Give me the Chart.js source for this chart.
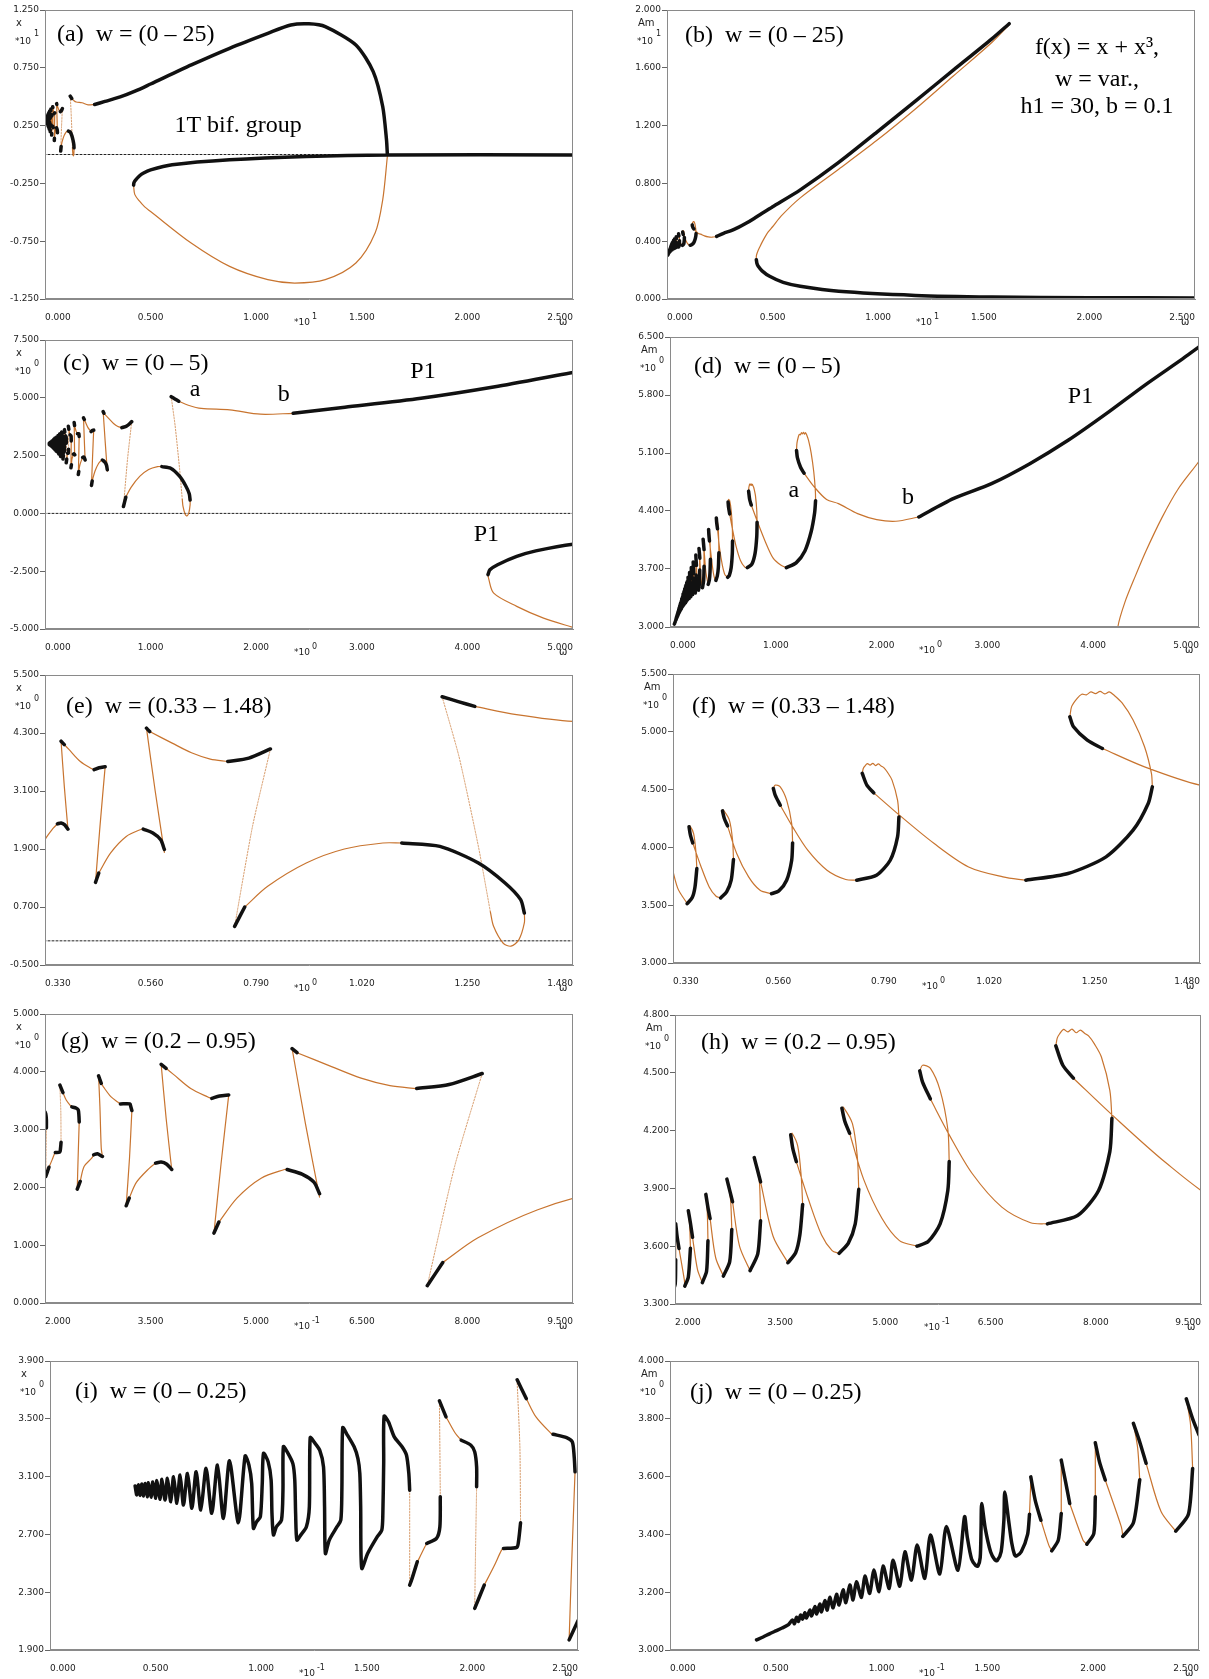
<!DOCTYPE html>
<html>
<head>
<meta charset="utf-8">
<script src="https://cdn.jsdelivr.net/npm/chart.js@4.4.0/dist/chart.umd.min.js"></script>
<style>
body { margin: 0; background: #fff; width: 1209px; height: 1679px; position: relative; overflow: hidden; }
canvas { position: absolute; }
</style>
</head>
<body>
<script>
/** BIFURCATION DIAGRAMS f(x) = x + x^3 , 10 panels **/

// ---- tick labels (axis units) ----
var wTicks25 = [0, 0.5, 1, 1.5, 2, 2.5];
var wTicks5 = [0, 1, 2, 3, 4, 5];
var wTicksE = [0.33, 0.56, 0.79, 1.02, 1.25, 1.48];
var wTicksG = [2, 3.5, 5, 6.5, 8, 9.5];
var aTicksY = [-1.25, -0.75, -0.25, 0.25, 0.75, 1.25];
var bTicksY = [0, 0.4, 0.8, 1.2, 1.6, 2.0];
var cTicksY = [-5, -2.5, 0, 2.5, 5, 7.5];
var dTicksY = [3.0, 3.7, 4.4, 5.1, 5.8, 6.5];
var eTicksY = [-0.5, 0.7, 1.9, 3.1, 4.3, 5.5];
var fTicksY = [3.0, 3.5, 4.0, 4.5, 5.0, 5.5];
var gTicksY = [0, 1, 2, 3, 4, 5];
var hTicksY = [3.3, 3.6, 3.9, 4.2, 4.5, 4.8];
var iTicksY = [1.9, 2.3, 2.7, 3.1, 3.5, 3.9];
var jTicksY = [3.0, 3.2, 3.4, 3.6, 3.8, 4.0];

// ---- x(w) curves, [w, x] ----
// stable oscillation band at small w (black)
var xDenseBlack = [
  [0.0403,3.035],[0.0411,2.973],[0.0419,3.044],[0.0427,2.970],[0.0435,3.049],[0.0443,2.966],[0.0451,3.053],[0.0462,2.961],
  [0.0466,3.058],[0.0480,2.957],[0.0487,3.063],[0.0501,2.950],[0.0506,3.072],[0.0522,2.943],[0.0530,3.081],[0.0545,2.938],
  [0.0556,3.088],[0.0572,2.926],[0.0585,3.099],[0.0601,2.915],[0.0616,3.111],[0.0632,2.903],[0.0651,3.122],[0.0672,2.881],
  [0.0692,3.134],[0.0714,2.869],[0.0739,3.157],[0.0766,2.846],[0.0793,3.180],[0.0821,2.811],[0.0850,3.210],[0.0892,2.781],
  [0.0924,3.243],[0.0942,3.179],[0.0955,3.052],[0.0963,2.742],[0.0978,2.787],[0.0996,2.822],[0.1005,3.052],
  [0.1011,3.261],[0.1033,3.202],[0.1047,3.075],[0.1051,2.845],[0.1058,2.696],[0.1072,2.753],[0.1096,2.799],[0.1103,3.006],
  [0.1105,3.307],[0.1123,3.271],[0.1150,3.190],[0.1159,3.075],[0.1163,2.845],[0.1169,2.661],[0.1187,2.695],[0.1214,2.753],
  [0.1228,2.891],[0.1232,3.370],[0.1250,3.340],[0.1277,3.283],[0.1295,3.167],[0.1300,2.891],[0.1304,2.568],[0.1322,2.660],
  [0.1359,2.753],[0.1377,2.799],[0.1382,3.006],[0.1386,3.439],[0.1404,3.398],[0.1440,3.306],[0.1458,3.225],[0.1467,3.121],
  [0.1471,2.891],[0.1476,2.465],[0.1504,2.568],[0.1549,2.683],[0.1571,2.730],[0.1576,2.845],[0.1580,3.200],[0.1582,3.518],
  [0.1603,3.478],[0.1630,3.375],[0.1667,3.306],[0.1688,3.248],[0.1699,3.121],[0.1703,3.006]
];
var xFramesBlack = [
  [[0.1703,2.349],[0.1712,2.384],[0.1739,2.511]],
  [[0.1784,2.637],[0.1830,2.672],[0.1846,2.753],[0.1848,2.960]],
  [[0.1844,3.624],[0.1875,3.513]],
  [[0.1947,3.352],[0.1993,3.317],[0.2011,3.271],[0.2020,3.167],[0.2020,3.029]],
  [[0.2011,2.188],[0.2056,2.349]],
  [[0.2147,2.603],[0.2210,2.610],[0.2219,2.660],[0.2228,2.780]],
  [[0.2212,3.770],[0.2255,3.640]],
  [[0.2382,3.393],[0.2446,3.370],[0.2473,3.340],[0.2482,3.236],[0.2486,3.133]],
  [[0.2458,1.970],[0.2500,2.103]],
  [[0.2691,2.563],[0.2745,2.581],[0.2816,2.535]],
  [[0.2761,3.929],[0.2799,3.800]],
  [[0.3071,3.445],[0.3207,3.445],[0.3218,3.400],[0.3234,3.329]],
  [[0.3153,1.682],[0.3196,1.814]],
  [[0.357,2.42],[0.365,2.44],[0.373,2.40],[0.380,2.31]],
  [[0.365,4.13],[0.372,4.06]],
  [[0.437,3.54],[0.448,3.58],[0.461,3.60]],
  [[0.440,1.21],[0.447,1.40]],
  [[0.544,2.31],[0.565,2.23],[0.582,2.09],[0.590,1.89]],
  [[0.551,4.40],[0.558,4.33]],
  [[0.728,3.71],[0.774,3.78],[0.821,3.97]],
  [[0.743,0.30],[0.765,0.70]],
  [[1.107,2.024],[1.190,1.955],[1.274,1.610],[1.332,1.197],[1.366,0.852],[1.374,0.576]],
  [[1.195,5.05],[1.230,4.95],[1.266,4.85]]
];
var xFramesOrange = [
  [[0.1739,2.511],[0.1748,2.534],[0.1775,2.614],[0.1784,2.637]],
  [[0.1875,3.513],[0.1884,3.490],[0.1920,3.398],[0.1947,3.352]],
  [[0.2056,2.349],[0.2101,2.476],[0.2138,2.591],[0.2147,2.603]],
  [[0.2255,3.640],[0.2301,3.513],[0.2373,3.398],[0.2382,3.393]],
  [[0.2486,3.133],[0.2470,2.500],[0.2458,1.970]],
  [[0.2500,2.103],[0.2555,2.362],[0.2663,2.506],[0.2691,2.563]],
  [[0.2816,2.535],[0.2799,2.679],[0.2780,3.400],[0.2761,3.929]],
  [[0.2799,3.800],[0.2827,3.744],[0.2935,3.571],[0.3044,3.468],[0.3071,3.445]],
  [[0.3234,3.329],[0.3200,2.500],[0.3153,1.682]],
  [[0.3196,1.814],[0.330,2.09],[0.348,2.33],[0.357,2.42]],
  [[0.365,4.13],[0.372,3.20],[0.380,2.31]],
  [[0.372,4.06],[0.382,3.96],[0.407,3.71],[0.432,3.56],[0.437,3.54]],
  [[0.461,3.60],[0.450,2.40],[0.440,1.21]],
  [[0.447,1.40],[0.473,1.82],[0.507,2.16],[0.540,2.31],[0.544,2.31]],
  [[0.551,4.40],[0.570,3.10],[0.590,1.83]],
  [[0.558,4.33],[0.607,4.09],[0.649,3.89],[0.690,3.76],[0.728,3.71]],
  [[0.765,0.70],[0.815,1.128],[0.899,1.61],[0.982,1.90],[1.066,2.024],[1.107,2.024]],
  [[1.300,0.60],[1.307,0.30],[1.328,-0.05],[1.345,-0.11],[1.362,0.02],[1.374,0.37],[1.374,0.58]]
];
var xFramesFaint = [
  [[0.1703,3.006],[0.1703,2.360]],
  [[0.1848,2.960],[0.1846,3.300],[0.1844,3.600]],
  [[0.2020,3.029],[0.2015,2.600],[0.2011,2.200]],
  [[0.2228,2.780],[0.2225,3.300],[0.2212,3.750]],
  [[0.821,3.97],[0.782,2.37],[0.743,0.30]],
  [[1.195,5.05],[1.232,3.80],[1.274,1.95],[1.300,0.60]]
];
var xP1Black = [
  [[2.35,4.33],[2.84,4.59],[3.56,4.98],[4.29,5.50],[5.0,6.10],[6.93,7.75],[8.74,9.19],[10.55,10.48],[11.64,11.2],
   [12.5,11.3],[13.27,11.06],[14.72,9.48],[15.54,7.17],[15.99,4.15],[16.17,1.27],[16.21,0]],
  [[4.195,-2.65],[4.213,-2.44],[4.286,-2.22],[4.467,-1.86],[4.648,-1.62],[5.0,-1.33],[6.02,-0.89],[8.74,-0.46],
   [12.36,-0.17],[16.21,-0.04],[25,-0.04]]
];
var xP1Orange = [
  [[1.266,4.85],[1.357,4.68],[1.48,4.54],[1.75,4.48],[2.04,4.29],[2.35,4.33]],
  [[4.195,-2.65],[4.20,-2.80],[4.249,-3.45],[4.467,-4.02],[4.721,-4.53],[5.0,-4.93],[6.92,-7.66],[8.74,-9.68],
   [10.55,-10.83],[11.82,-11.12],[13.27,-10.83],[14.72,-9.39],[15.63,-6.80],[15.99,-3.92],[16.21,-0.17]]
];

// ---- Am(w) curves, [w, Am] ----
var amDenseBlack = [
  [0.0409,3.035],[0.044,3.045],[0.047,3.056],[0.050,3.066],[0.053,3.076],[0.056,3.088],[0.0579,3.104],[0.0588,3.091],
  [0.0598,3.113],[0.0607,3.099],[0.0617,3.121],[0.0627,3.107],[0.0637,3.129],[0.0645,3.111],[0.0661,3.138],[0.0669,3.118],
  [0.0685,3.150],[0.0693,3.125],[0.0708,3.159],[0.0716,3.132],[0.0732,3.171],[0.0743,3.138],[0.0755,3.182],[0.0771,3.146],
  [0.0787,3.193],[0.0799,3.156],[0.0818,3.208],[0.0831,3.164],[0.0850,3.225],[0.0865,3.173],[0.0881,3.236],[0.0905,3.182],
  [0.0921,3.256],[0.0944,3.196],[0.0963,3.277],[0.0988,3.202],[0.1007,3.291],[0.1036,3.213],[0.1054,3.311],[0.1086,3.221],
  [0.1110,3.340],[0.1141,3.242],[0.1168,3.363],[0.1204,3.248],[0.1231,3.398],[0.1275,3.263],[0.1306,3.427],[0.1361,3.276],
  [0.1392,3.461],[0.1405,3.390],[0.1425,3.315],[0.1445,3.292],[0.1455,3.290],[0.1466,3.320],[0.1470,3.420],[0.1473,3.507],
  [0.1490,3.420],[0.1515,3.340],[0.1535,3.312],[0.1546,3.309],[0.1565,3.340],[0.1578,3.450],[0.1582,3.547],[0.1600,3.450],
  [0.1615,3.370],[0.1628,3.330],[0.1636,3.325],[0.1660,3.340],[0.1690,3.400],[0.1699,3.470]
];
var amLoopsBlack = [
  [[0.1705,3.599],[0.1726,3.518],[0.1753,3.449]],
  [[0.1804,3.343],[0.1835,3.380],[0.1849,3.472]],
  [[0.1849,3.657],[0.1870,3.580],[0.1889,3.507]],
  [[0.1970,3.366],[0.2003,3.403],[0.2010,3.530]],
  [[0.2010,3.717],[0.2030,3.650],[0.2057,3.588]],
  [[0.214,3.393],[0.219,3.440],[0.222,3.589]],
  [[0.219,3.784],[0.222,3.720],[0.225,3.646]],
  [[0.239,3.411],[0.245,3.470],[0.247,3.628]],
  [[0.244,3.869],[0.247,3.800],[0.250,3.744]],
  [[0.269,3.445],[0.278,3.520],[0.281,3.687]],
  [[0.274,3.948],[0.278,3.890],[0.282,3.831]],
  [[0.307,3.473],[0.318,3.560],[0.322,3.732]],
  [[0.313,4.060],[0.318,3.990],[0.322,3.934]],
  [[0.361,3.514],[0.372,3.566],[0.378,3.658],[0.382,3.817]],
  [[0.365,4.178],[0.368,4.106],[0.373,4.039]],
  [[0.434,3.563],[0.447,3.615],[0.457,3.716],[0.462,3.895]],
  [[0.438,4.316],[0.442,4.250],[0.449,4.186]],
  [[0.545,3.600],[0.561,3.624],[0.578,3.716],[0.589,3.889],[0.591,4.039]],
  [[0.549,4.510],[0.553,4.452],[0.564,4.365]],
  [[0.731,3.716],[0.774,3.759],[0.804,3.889],[0.820,4.091],[0.823,4.264]],
  [[0.743,4.640],[0.753,4.539],[0.768,4.472]],
  [[1.100,3.716],[1.192,3.774],[1.275,3.918],[1.334,4.149],[1.367,4.380],[1.376,4.524]],
  [[1.196,5.130],[1.204,5.044],[1.234,4.928],[1.267,4.856]]
];
var amLoopsOrange = [
  [[0.1699,3.470],[0.1705,3.580]],
  [[0.1753,3.449],[0.1790,3.363],[0.1804,3.343]],
  [[0.1849,3.472],[0.1849,3.640]],
  [[0.1889,3.507],[0.1952,3.380],[0.1970,3.366]],
  [[0.2010,3.530],[0.2010,3.700]],
  [[0.2057,3.588],[0.2133,3.426],[0.2140,3.393]],
  [[0.222,3.589],[0.221,3.700],[0.219,3.784]],
  [[0.225,3.646],[0.232,3.480],[0.239,3.411]],
  [[0.247,3.628],[0.246,3.780],[0.244,3.869]],
  [[0.250,3.744],[0.258,3.540],[0.269,3.445]],
  [[0.281,3.687],[0.279,3.850],[0.274,3.948]],
  [[0.282,3.831],[0.292,3.600],[0.307,3.473]],
  [[0.322,3.732],[0.320,3.950],[0.313,4.060]],
  [[0.322,3.934],[0.340,3.650],[0.361,3.514]],
  [[0.382,3.817],[0.380,3.961],[0.375,4.120],[0.367,4.186],[0.365,4.178]],
  [[0.373,4.039],[0.390,3.846],[0.409,3.658],[0.424,3.577],[0.434,3.563]],
  [[0.462,3.895],[0.460,4.062],[0.453,4.236],[0.440,4.322],[0.438,4.316]],
  [[0.449,4.186],[0.469,3.947],[0.495,3.745],[0.520,3.629],[0.545,3.600]],
  [[0.591,4.039],[0.589,4.207],[0.578,4.409],[0.564,4.524],[0.553,4.539],[0.549,4.510]],
  [[0.564,4.365],[0.591,4.178],[0.624,3.976],[0.666,3.803],[0.707,3.722],[0.731,3.716]],
  [[0.823,4.264],[0.820,4.409],[0.808,4.582],[0.798,4.650],[0.790,4.690],[0.784,4.705],[0.778,4.722],[0.772,4.708],
   [0.766,4.727],[0.760,4.712],[0.754,4.725],[0.748,4.700],[0.745,4.680],[0.743,4.640]],
  [[0.768,4.472],[0.824,4.279],[0.900,4.033],[0.975,3.831],[1.050,3.745],[1.100,3.716]],
  [[1.376,4.524],[1.374,4.640],[1.359,4.871],[1.334,5.102],[1.310,5.250],[1.292,5.318],[1.282,5.345],[1.272,5.328],
   [1.262,5.350],[1.252,5.330],[1.242,5.345],[1.232,5.320],[1.222,5.325],[1.212,5.290],[1.200,5.220],[1.196,5.130]]
];
var amP1Black = [
  [[2.352,4.328],[2.677,4.549],[3.039,4.730],[3.401,4.971],[3.763,5.253],[4.124,5.575],[4.486,5.917],[4.848,6.239],
   [5.0,6.38],[6.31,7.55],[8.13,9.45],[9.94,11.55],[11.76,13.70],[13.57,15.85],[15.38,18.0],[16.2,19.05]],
  [[4.23,2.72],[4.26,2.45],[4.32,2.26],[4.50,1.95],[4.86,1.57],[5.5,1.15],[6.31,0.88],[8.13,0.53],[11.76,0.25],
   [15.39,0.14],[20,0.09],[25,0.07]]
];
var amP1Orange = [
  [[1.267,4.856],[1.359,4.697],[1.48,4.539],[1.592,4.489],[1.773,4.368],[1.954,4.296],[2.135,4.276],[2.352,4.328]],
  [[4.23,2.72],[4.233,3.0],[4.30,3.30],[4.40,3.62],[4.50,3.92],[4.65,4.32],[4.80,4.66],[5.0,5.0],[5.41,5.75],
   [6.31,7.0],[8.13,8.98],[9.94,10.98],[11.76,13.15],[13.57,15.45],[15.38,17.75],[16.2,18.98]]
];

var ORANGE = '#c8742f';
var ORANGE_FAINT = 'rgba(200,116,47,0.7)';
var BLACK = '#111111';

var families = {
  x: { black: [xDenseBlack].concat(xFramesBlack, xP1Black), orange: xFramesOrange.concat(xP1Orange), faint: xFramesFaint },
  am: { black: [amDenseBlack].concat(amLoopsBlack, amP1Black), orange: amLoopsOrange.concat(amP1Orange), faint: [] }
};

var panels = [
  { id: 'a', fam: 'x', box: [45, 10, 573, 299], sx: 0.1, sy: 0.1, xr: [0, 2.5], yr: [-1.25, 1.25], xt: wTicks25, yt: aTicksY,
    ylab: 'x', yexp: '1', xexp: '1', title: '(a)  w = (0 \u2013 25)', tpos: [12, 25], zero: true,
    notes: [{ t: '1T bif. group', x: 0.914, y: 0.248 }] },
  { id: 'b', fam: 'am', box: [667, 10, 1195, 299], sx: 0.1, sy: 0.1, xr: [0, 2.5], yr: [0, 2], xt: wTicks25, yt: bTicksY,
    ylab: 'Am', yexp: '1', xexp: '1', title: '(b)  w = (0 \u2013 25)', tpos: [18, 26],
    notes: [{ t: 'f(x) = x + x\u00b3,', x: 2.036, y: 1.737 }, { t: 'w = var.,', x: 2.036, y: 1.516 }, { t: 'h1 = 30, b = 0.1', x: 2.036, y: 1.329 }] },
  { id: 'c', fam: 'x', box: [45, 340, 573, 629], sx: 1, sy: 1, xr: [0, 5], yr: [-5, 7.5], xt: wTicks5, yt: cTicksY,
    ylab: 'x', yexp: '0', xexp: '0', title: '(c)  w = (0 \u2013 5)', tpos: [18, 24], zero: true,
    notes: [{ t: 'a', x: 1.42, y: 5.37 }, { t: 'b', x: 2.26, y: 5.12 }, { t: 'P1', x: 3.58, y: 6.13 }, { t: 'P1', x: 4.18, y: -0.92 }] },
  { id: 'd', fam: 'am', box: [670, 337, 1199, 627], sx: 1, sy: 1, xr: [0, 5], yr: [3, 6.5], xt: wTicks5, yt: dTicksY,
    ylab: 'Am', yexp: '0', xexp: '0', title: '(d)  w = (0 \u2013 5)', tpos: [24, 30],
    notes: [{ t: 'a', x: 1.17, y: 4.64 }, { t: 'b', x: 2.25, y: 4.56 }, { t: 'P1', x: 3.88, y: 5.78 }] },
  { id: 'e', fam: 'x', box: [45, 675, 573, 965], sx: 1, sy: 1, xr: [0.33, 1.48], yr: [-0.5, 5.5], xt: wTicksE, yt: eTicksY,
    ylab: 'x', yexp: '0', xexp: '0', title: '(e)  w = (0.33 \u2013 1.48)', tpos: [21, 32], zero: true, notes: [] },
  { id: 'f', fam: 'am', box: [673, 674, 1200, 963], sx: 1, sy: 1, xr: [0.33, 1.48], yr: [3, 5.5], xt: wTicksE, yt: fTicksY,
    ylab: 'Am', yexp: '0', xexp: '0', title: '(f)  w = (0.33 \u2013 1.48)', tpos: [19, 33], notes: [] },
  { id: 'g', fam: 'x', box: [45, 1014, 573, 1303], sx: 10, sy: 1, xr: [2, 9.5], yr: [0, 5], xt: wTicksG, yt: gTicksY,
    ylab: 'x', yexp: '0', xexp: '-1', title: '(g)  w = (0.2 \u2013 0.95)', tpos: [16, 28], notes: [] },
  { id: 'h', fam: 'am', box: [675, 1015, 1201, 1304], sx: 10, sy: 1, xr: [2, 9.5], yr: [3.3, 4.8], xt: wTicksG, yt: hTicksY,
    ylab: 'Am', yexp: '0', xexp: '-1', title: '(h)  w = (0.2 \u2013 0.95)', tpos: [26, 28], notes: [] },
  { id: 'i', fam: 'x', box: [50, 1361, 578, 1650], sx: 10, sy: 1, xr: [0, 2.5], yr: [1.9, 3.9], xt: wTicks25, yt: iTicksY,
    ylab: 'x', yexp: '0', xexp: '-1', title: '(i)  w = (0 \u2013 0.25)', tpos: [25, 31], notes: [] },
  { id: 'j', fam: 'am', box: [670, 1361, 1199, 1650], sx: 10, sy: 1, xr: [0, 2.5], yr: [3, 4], xt: wTicks25, yt: jTicksY,
    ylab: 'Am', yexp: '0', xexp: '-1', title: '(j)  w = (0 \u2013 0.25)', tpos: [20, 32], notes: [] }
];

// join polylines into one dataset, broken by null points
function toPoints(list, sx, sy) {
  var out = [];
  list.forEach(function (s, i) {
    if (i) out.push({ x: null, y: null });
    s.forEach(function (p) { out.push({ x: p[0] * sx, y: p[1] * sy }); });
  });
  return out;
}

function deco(p) {
  return {
    id: 'deco_' + p.id,
    afterDraw: function (chart) {
      var ctx = chart.ctx, a = chart.chartArea;
      var xs = chart.scales.x, ys = chart.scales.y;
      ctx.save();
      ctx.strokeStyle = '#8a8a8a';
      ctx.lineWidth = 1;
      ctx.strokeRect(a.left + 0.5, a.top + 0.5, a.right - a.left - 1, a.bottom - a.top - 1);

      ctx.fillStyle = '#222';
      ctx.textBaseline = 'middle';
      ctx.textAlign = 'left';
      ctx.font = '10px "DejaVu Sans"';
      ctx.fillText(p.ylab, a.left - 29, a.top + 13);
      ctx.font = '9px "DejaVu Sans"';
      ctx.fillText('*10', a.left - 30, a.top + 32);
      var w1 = ctx.measureText('*10').width;
      ctx.fillText('*10', a.left + 249, a.bottom + 24);
      ctx.font = '8px "DejaVu Sans"';
      ctx.fillText(p.yexp, a.left - 30 + w1 + 3, a.top + 24);
      ctx.fillText(p.xexp, a.left + 249 + w1 + 2, a.bottom + 18);
      ctx.font = '10px "DejaVu Sans"';
      ctx.fillText('\u03c9', a.right - 14, a.bottom + 23);

      ctx.fillStyle = '#000';
      ctx.font = '24px "Liberation Serif"';
      ctx.fillText(p.title, a.left + p.tpos[0], a.top + p.tpos[1]);
      ctx.textAlign = 'center';
      p.notes.forEach(function (n) {
        ctx.fillText(n.t, xs.getPixelForValue(n.x), ys.getPixelForValue(n.y));
      });
      ctx.restore();
    }
  };
}

panels.forEach(function (p) {
  var L = p.box[0], T = p.box[1], R = p.box[2], B = p.box[3];
  var cv = document.createElement('canvas');
  cv.width = R - L + 55;
  cv.height = B - T + 45;
  cv.style.left = (L - 45) + 'px';
  cv.style.top = (T - 10) + 'px';
  document.body.appendChild(cv);

  var fam = families[p.fam];
  var common = { showLine: true, pointRadius: 0, fill: false, spanGaps: false, clip: 0,
                 borderCapStyle: 'round', borderJoinStyle: 'round' };
  var datasets = [
    Object.assign({ data: toPoints(fam.black, p.sx, p.sy), borderColor: BLACK, borderWidth: 3.5, tension: 0.25, order: 0 }, common),
    Object.assign({ data: toPoints(fam.orange, p.sx, p.sy), borderColor: ORANGE, borderWidth: 1.2, tension: 0.3, order: 1 }, common),
    Object.assign({ data: toPoints(fam.faint, p.sx, p.sy), borderColor: ORANGE_FAINT, borderWidth: 1, borderDash: [1.5, 1.5], tension: 0.2, order: 2 }, common)
  ];
  if (p.zero) {
    datasets.push(Object.assign({ data: [{ x: -1000, y: 0 }, { x: 1000, y: 0 }], borderColor: '#222', borderWidth: 1,
      borderDash: [2, 2], tension: 0, order: 3 }, common));
  }

  var tickFont = { family: 'DejaVu Sans', size: 9 };
  new Chart(cv, {
    type: 'scatter',
    data: { datasets: datasets },
    options: {
      responsive: false,
      animation: false,
      events: [],
      layout: { padding: { left: 0, top: 10, right: 10, bottom: 0 } },
      elements: { line: { capBezierPoints: false } },
      plugins: { legend: { display: false }, tooltip: { enabled: false } },
      scales: {
        x: {
          type: 'linear', min: p.xr[0], max: p.xr[1],
          afterBuildTicks: function (s) { s.ticks = p.xt.map(function (v) { return { value: v }; }); },
          afterFit: function (s) { s.height = 35; },
          grid: { display: false },
          border: { display: true, color: '#8a8a8a' },
          ticks: { align: 'inner', autoSkip: false, maxRotation: 0, padding: 5, color: '#222', font: tickFont,
                   callback: function (v) { return Number(v).toFixed(3); } }
        },
        y: {
          type: 'linear', min: p.yr[0], max: p.yr[1],
          afterBuildTicks: function (s) { s.ticks = p.yt.map(function (v) { return { value: v }; }); },
          afterFit: function (s) { s.width = 45; },
          grid: { drawOnChartArea: false, drawTicks: true, tickLength: 5, color: '#666' },
          border: { display: true, color: '#8a8a8a' },
          ticks: { autoSkip: false, padding: 1, color: '#222', font: tickFont,
                   callback: function (v) { return Number(v).toFixed(3); } }
        }
      }
    },
    plugins: [deco(p)]
  });
});
</script>
</body>
</html>
